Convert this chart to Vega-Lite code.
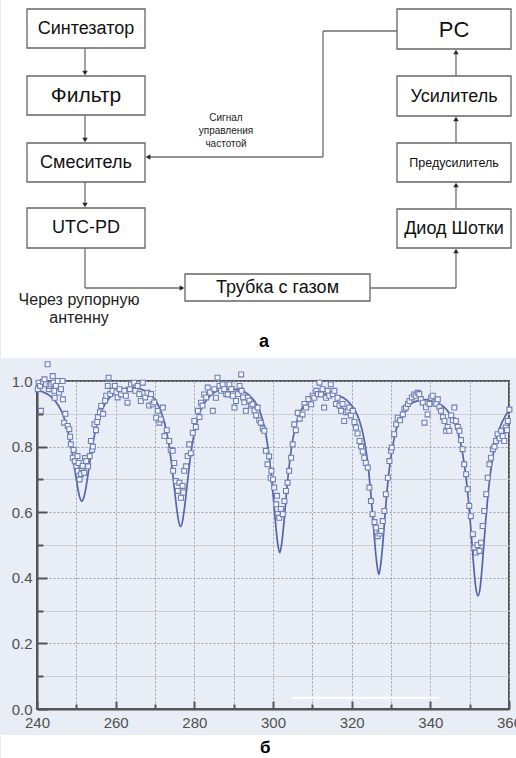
{
 "$schema": "https://vega.github.io/schema/vega-lite/v6.json",
 "background": "#e8edf6",
 "padding": 0,
 "spacing": 0,
 "config": {"font": "Liberation Sans"},
 "datasets": {
  "panel": [{"x": 0, "x2": 516, "y": 0, "y2": 358}],
  "segments": [
   {"x": 84, "y": 48, "x2": 84, "y2": 73},
   {"x": 84, "y": 115, "x2": 84, "y2": 140},
   {"x": 84, "y": 182, "x2": 84, "y2": 205},
   {"x": 84, "y": 248, "x2": 84, "y2": 288},
   {"x": 84, "y": 288, "x2": 181, "y2": 288},
   {"x": 369, "y": 288, "x2": 455, "y2": 288},
   {"x": 455, "y": 288, "x2": 455, "y2": 251},
   {"x": 455, "y": 209, "x2": 455, "y2": 185},
   {"x": 455, "y": 143, "x2": 455, "y2": 119},
   {"x": 455, "y": 76, "x2": 455, "y2": 52},
   {"x": 396, "y": 31, "x2": 322, "y2": 31},
   {"x": 322, "y": 31, "x2": 322, "y2": 157},
   {"x": 322, "y": 157, "x2": 147, "y2": 157}
  ],
  "boxes": [
   {"x": 26, "x2": 144, "y": 9, "y2": 48},
   {"x": 26, "x2": 144, "y": 76, "y2": 115},
   {"x": 26, "x2": 144, "y": 143, "y2": 182},
   {"x": 26, "x2": 144, "y": 208, "y2": 248},
   {"x": 184, "x2": 369, "y": 274, "y2": 301},
   {"x": 396, "x2": 510, "y": 9, "y2": 49},
   {"x": 396, "x2": 510, "y": 76, "y2": 116},
   {"x": 396, "x2": 510, "y": 143, "y2": 182},
   {"x": 396, "x2": 510, "y": 209, "y2": 248}
  ],
  "boxlabels": [
   {"x": 85, "y": 29, "label": "Синтезатор"},
   {"x": 85, "y": 96, "label": "Фильтр"},
   {"x": 85, "y": 163, "label": "Смеситель"},
   {"x": 85, "y": 228, "label": "UTC-PD"},
   {"x": 276.5, "y": 288, "label": "Трубка с газом"},
   {"x": 453, "y": 29.5, "label": "PC"},
   {"x": 453, "y": 96.5, "label": "Усилитель"},
   {"x": 453, "y": 163, "label": "Предусилитель"},
   {"x": 453, "y": 229, "label": "Диод Шотки"}
  ],
  "arrows": [
   {"x": 84, "y": 73, "dir": "down"},
   {"x": 84, "y": 140, "dir": "down"},
   {"x": 84, "y": 205, "dir": "down"},
   {"x": 181, "y": 288, "dir": "right"},
   {"x": 455, "y": 251, "dir": "up"},
   {"x": 455, "y": 185, "dir": "up"},
   {"x": 455, "y": 119, "dir": "up"},
   {"x": 455, "y": 52, "dir": "up"},
   {"x": 147, "y": 157, "dir": "left"}
  ],
  "signalnote": [
   {"x": 225, "y": 118, "t": "Сигнал"},
   {"x": 225, "y": 131, "t": "управления"},
   {"x": 225, "y": 144, "t": "частотой"}
  ],
  "antennanote": [
   {"x": 78, "y": 300, "t": "Через рупорную"},
   {"x": 78, "y": 318, "t": "антенну"}
  ],
  "toplabel": [{"x": 263, "y": 342, "t": "а"}],
  "strip": [{"x": 230.85, "x2": 362.03, "y": -0.0793, "y2": -0.16}],
  "artifact": [{"x": 304.8, "x2": 342.2, "y": 0.034}],
  "bottomlabel": [{"x": 298, "y": -0.12, "t": "б"}],
  "curve": [
   {"x": 240.0, "y": 0.973}, {"x": 241.4, "y": 0.967}, {"x": 243.4, "y": 0.954}, {"x": 245.4, "y": 0.926},
   {"x": 246.4, "y": 0.903}, {"x": 247.4, "y": 0.869}, {"x": 248.4, "y": 0.817}, {"x": 248.9, "y": 0.784},
   {"x": 249.4, "y": 0.747}, {"x": 249.9, "y": 0.708}, {"x": 250.4, "y": 0.671}, {"x": 250.9, "y": 0.644},
   {"x": 251.4, "y": 0.634}, {"x": 251.9, "y": 0.645}, {"x": 252.4, "y": 0.672}, {"x": 252.9, "y": 0.71},
   {"x": 253.4, "y": 0.75}, {"x": 253.9, "y": 0.788}, {"x": 254.4, "y": 0.822}, {"x": 255.4, "y": 0.874},
   {"x": 256.4, "y": 0.908}, {"x": 257.4, "y": 0.932}, {"x": 259.4, "y": 0.96}, {"x": 261.4, "y": 0.974},
   {"x": 263.9, "y": 0.98}, {"x": 266.5, "y": 0.975}, {"x": 268.5, "y": 0.962}, {"x": 270.5, "y": 0.934},
   {"x": 271.5, "y": 0.908}, {"x": 272.5, "y": 0.869}, {"x": 273.5, "y": 0.809}, {"x": 274.0, "y": 0.767},
   {"x": 274.5, "y": 0.718}, {"x": 275.0, "y": 0.665}, {"x": 275.5, "y": 0.613}, {"x": 276.0, "y": 0.573},
   {"x": 276.5, "y": 0.556}, {"x": 277.0, "y": 0.573}, {"x": 277.5, "y": 0.613}, {"x": 278.0, "y": 0.665},
   {"x": 278.5, "y": 0.718}, {"x": 279.0, "y": 0.767}, {"x": 279.5, "y": 0.809}, {"x": 280.5, "y": 0.868},
   {"x": 281.5, "y": 0.907}, {"x": 282.5, "y": 0.932}, {"x": 284.5, "y": 0.96}, {"x": 286.5, "y": 0.972},
   {"x": 289.0, "y": 0.975}, {"x": 291.7, "y": 0.972}, {"x": 293.7, "y": 0.959}, {"x": 295.7, "y": 0.931},
   {"x": 296.7, "y": 0.906}, {"x": 297.7, "y": 0.865}, {"x": 298.7, "y": 0.8}, {"x": 299.2, "y": 0.753},
   {"x": 299.7, "y": 0.696}, {"x": 300.2, "y": 0.629}, {"x": 300.7, "y": 0.56}, {"x": 301.2, "y": 0.504},
   {"x": 301.7, "y": 0.476}, {"x": 302.2, "y": 0.503}, {"x": 302.7, "y": 0.558}, {"x": 303.2, "y": 0.627},
   {"x": 303.7, "y": 0.694}, {"x": 304.2, "y": 0.75}, {"x": 304.7, "y": 0.797}, {"x": 305.7, "y": 0.86},
   {"x": 306.7, "y": 0.899}, {"x": 307.7, "y": 0.923}, {"x": 309.7, "y": 0.948}, {"x": 311.7, "y": 0.959},
   {"x": 313.5, "y": 0.959}, {"x": 316.9, "y": 0.954}, {"x": 318.9, "y": 0.94}, {"x": 320.9, "y": 0.91},
   {"x": 321.9, "y": 0.882}, {"x": 322.9, "y": 0.838}, {"x": 323.9, "y": 0.767}, {"x": 324.4, "y": 0.716},
   {"x": 324.9, "y": 0.653}, {"x": 325.4, "y": 0.579}, {"x": 325.9, "y": 0.503}, {"x": 326.4, "y": 0.443},
   {"x": 326.9, "y": 0.41}, {"x": 327.4, "y": 0.442}, {"x": 327.9, "y": 0.502}, {"x": 328.4, "y": 0.578},
   {"x": 328.9, "y": 0.652}, {"x": 329.4, "y": 0.714}, {"x": 329.9, "y": 0.761}, {"x": 330.9, "y": 0.831},
   {"x": 331.9, "y": 0.874}, {"x": 332.9, "y": 0.901}, {"x": 334.9, "y": 0.929}, {"x": 336.9, "y": 0.94},
   {"x": 339.0, "y": 0.943}, {"x": 342.1, "y": 0.932}, {"x": 344.1, "y": 0.913}, {"x": 346.1, "y": 0.875},
   {"x": 347.1, "y": 0.84}, {"x": 348.1, "y": 0.787}, {"x": 349.1, "y": 0.704}, {"x": 349.6, "y": 0.647},
   {"x": 350.1, "y": 0.579}, {"x": 350.6, "y": 0.502}, {"x": 351.1, "y": 0.425}, {"x": 351.6, "y": 0.366},
   {"x": 352.1, "y": 0.345}, {"x": 352.6, "y": 0.365}, {"x": 353.1, "y": 0.423}, {"x": 353.6, "y": 0.5},
   {"x": 354.1, "y": 0.577}, {"x": 354.6, "y": 0.645}, {"x": 355.1, "y": 0.702}, {"x": 356.1, "y": 0.784},
   {"x": 357.1, "y": 0.837}, {"x": 358.1, "y": 0.871}, {"x": 359.1, "y": 0.894}, {"x": 360.0, "y": 0.911}
  ],
  "points": [
   {"x": 240.2, "y": 0.975}, {"x": 240.4, "y": 0.995}, {"x": 240.8, "y": 0.985}, {"x": 241.0, "y": 0.909},
   {"x": 241.5, "y": 0.998}, {"x": 241.9, "y": 1.005}, {"x": 242.3, "y": 0.99}, {"x": 242.7, "y": 1.051},
   {"x": 243.0, "y": 0.975}, {"x": 243.2, "y": 0.985}, {"x": 243.6, "y": 0.99}, {"x": 244.0, "y": 1.015},
   {"x": 244.2, "y": 0.995}, {"x": 244.4, "y": 0.97}, {"x": 244.5, "y": 0.949}, {"x": 244.8, "y": 0.985},
   {"x": 245.3, "y": 1.0}, {"x": 245.6, "y": 0.965}, {"x": 246.1, "y": 0.975}, {"x": 246.5, "y": 1.0},
   {"x": 246.6, "y": 0.944}, {"x": 246.9, "y": 0.873}, {"x": 247.2, "y": 0.9}, {"x": 247.8, "y": 0.863},
   {"x": 248.2, "y": 0.853}, {"x": 248.4, "y": 0.83}, {"x": 248.6, "y": 0.807}, {"x": 249.1, "y": 0.766},
   {"x": 249.3, "y": 0.79}, {"x": 249.6, "y": 0.755}, {"x": 250.0, "y": 0.74}, {"x": 250.3, "y": 0.771},
   {"x": 250.4, "y": 0.726}, {"x": 250.6, "y": 0.75}, {"x": 250.8, "y": 0.7}, {"x": 251.2, "y": 0.716},
   {"x": 251.4, "y": 0.735}, {"x": 251.6, "y": 0.741}, {"x": 252.0, "y": 0.72}, {"x": 252.2, "y": 0.765},
   {"x": 252.5, "y": 0.756}, {"x": 253.0, "y": 0.74}, {"x": 253.4, "y": 0.771}, {"x": 253.7, "y": 0.817},
   {"x": 254.0, "y": 0.79}, {"x": 254.2, "y": 0.8}, {"x": 254.6, "y": 0.868}, {"x": 255.0, "y": 0.85},
   {"x": 255.3, "y": 0.875}, {"x": 255.5, "y": 0.89}, {"x": 256.0, "y": 0.905}, {"x": 256.3, "y": 0.924},
   {"x": 256.8, "y": 0.9}, {"x": 257.3, "y": 0.94}, {"x": 257.6, "y": 0.955}, {"x": 258.0, "y": 0.985},
   {"x": 258.2, "y": 1.01}, {"x": 258.6, "y": 0.96}, {"x": 259.2, "y": 0.97}, {"x": 259.8, "y": 0.985},
   {"x": 260.2, "y": 0.965}, {"x": 260.5, "y": 0.95}, {"x": 261.0, "y": 0.975}, {"x": 261.4, "y": 0.959},
   {"x": 262.2, "y": 0.97}, {"x": 262.6, "y": 0.955}, {"x": 263.0, "y": 0.934}, {"x": 263.6, "y": 0.975},
   {"x": 263.9, "y": 0.99}, {"x": 264.7, "y": 0.995}, {"x": 265.0, "y": 0.97}, {"x": 265.6, "y": 0.985},
   {"x": 266.0, "y": 0.96}, {"x": 266.4, "y": 0.939}, {"x": 266.9, "y": 0.995}, {"x": 267.5, "y": 0.95},
   {"x": 268.1, "y": 0.964}, {"x": 268.5, "y": 0.925}, {"x": 269.0, "y": 0.96}, {"x": 269.4, "y": 0.929},
   {"x": 269.8, "y": 0.935}, {"x": 270.3, "y": 0.888}, {"x": 270.7, "y": 0.909}, {"x": 271.1, "y": 0.873},
   {"x": 271.5, "y": 0.883}, {"x": 272.0, "y": 0.919}, {"x": 272.4, "y": 0.832}, {"x": 273.0, "y": 0.85},
   {"x": 273.6, "y": 0.817}, {"x": 274.0, "y": 0.79}, {"x": 274.5, "y": 0.787}, {"x": 274.6, "y": 0.726},
   {"x": 274.9, "y": 0.75}, {"x": 275.3, "y": 0.695}, {"x": 275.8, "y": 0.665}, {"x": 276.2, "y": 0.69},
   {"x": 276.6, "y": 0.644}, {"x": 277.0, "y": 0.68}, {"x": 277.2, "y": 0.66}, {"x": 277.4, "y": 0.726},
   {"x": 277.9, "y": 0.74}, {"x": 278.3, "y": 0.771}, {"x": 278.7, "y": 0.807}, {"x": 279.1, "y": 0.78},
   {"x": 279.6, "y": 0.842}, {"x": 280.0, "y": 0.878}, {"x": 280.4, "y": 0.86}, {"x": 280.9, "y": 0.909},
   {"x": 281.3, "y": 0.89}, {"x": 281.7, "y": 0.934}, {"x": 282.1, "y": 0.925}, {"x": 282.5, "y": 0.959},
   {"x": 283.0, "y": 0.95}, {"x": 283.4, "y": 0.98}, {"x": 284.0, "y": 0.965}, {"x": 284.7, "y": 0.909},
   {"x": 285.1, "y": 0.975}, {"x": 285.5, "y": 0.949}, {"x": 285.9, "y": 1.01}, {"x": 286.4, "y": 0.985},
   {"x": 286.8, "y": 0.97}, {"x": 287.2, "y": 0.99}, {"x": 287.6, "y": 0.975}, {"x": 288.1, "y": 0.96},
   {"x": 288.5, "y": 0.959}, {"x": 288.9, "y": 0.99}, {"x": 289.4, "y": 0.975}, {"x": 289.8, "y": 0.955},
   {"x": 290.2, "y": 0.919}, {"x": 290.6, "y": 0.939}, {"x": 291.1, "y": 0.96}, {"x": 291.5, "y": 0.985},
   {"x": 291.9, "y": 1.02}, {"x": 292.0, "y": 0.97}, {"x": 292.4, "y": 0.95}, {"x": 292.7, "y": 0.935},
   {"x": 293.1, "y": 0.909}, {"x": 293.6, "y": 0.949}, {"x": 294.0, "y": 0.94}, {"x": 294.4, "y": 0.925},
   {"x": 294.8, "y": 0.929}, {"x": 295.3, "y": 0.91}, {"x": 295.7, "y": 0.895}, {"x": 296.1, "y": 0.919},
   {"x": 296.5, "y": 0.88}, {"x": 296.9, "y": 0.873}, {"x": 297.4, "y": 0.855}, {"x": 297.8, "y": 0.848},
   {"x": 298.2, "y": 0.787}, {"x": 298.6, "y": 0.746}, {"x": 299.0, "y": 0.77}, {"x": 299.4, "y": 0.705},
   {"x": 299.6, "y": 0.726}, {"x": 300.0, "y": 0.7}, {"x": 300.3, "y": 0.675}, {"x": 300.8, "y": 0.624},
   {"x": 301.0, "y": 0.65}, {"x": 301.2, "y": 0.594}, {"x": 301.6, "y": 0.583}, {"x": 302.0, "y": 0.61},
   {"x": 302.5, "y": 0.594}, {"x": 302.9, "y": 0.634}, {"x": 303.3, "y": 0.665}, {"x": 303.7, "y": 0.69},
   {"x": 304.1, "y": 0.726}, {"x": 304.6, "y": 0.766}, {"x": 305.0, "y": 0.807}, {"x": 305.4, "y": 0.868},
   {"x": 305.8, "y": 0.85}, {"x": 306.3, "y": 0.903}, {"x": 306.8, "y": 0.885}, {"x": 307.5, "y": 0.898},
   {"x": 308.0, "y": 0.93}, {"x": 308.4, "y": 0.919}, {"x": 309.0, "y": 0.945}, {"x": 309.7, "y": 0.929},
   {"x": 310.1, "y": 0.955}, {"x": 310.5, "y": 0.949}, {"x": 311.0, "y": 0.97}, {"x": 311.4, "y": 0.96},
   {"x": 311.8, "y": 0.995}, {"x": 312.2, "y": 0.959}, {"x": 312.6, "y": 0.975}, {"x": 313.0, "y": 0.919},
   {"x": 313.5, "y": 0.949}, {"x": 313.9, "y": 0.97}, {"x": 314.3, "y": 0.955}, {"x": 314.7, "y": 0.99},
   {"x": 315.2, "y": 0.96}, {"x": 315.6, "y": 0.97}, {"x": 316.0, "y": 0.93}, {"x": 316.4, "y": 0.949},
   {"x": 316.9, "y": 0.925}, {"x": 317.3, "y": 0.909}, {"x": 317.7, "y": 0.93}, {"x": 318.1, "y": 0.878},
   {"x": 318.6, "y": 0.905}, {"x": 319.0, "y": 0.91}, {"x": 319.4, "y": 0.919}, {"x": 319.8, "y": 0.895},
   {"x": 320.3, "y": 0.909}, {"x": 320.7, "y": 0.875}, {"x": 321.1, "y": 0.858}, {"x": 321.5, "y": 0.84},
   {"x": 322.0, "y": 0.817}, {"x": 322.4, "y": 0.8}, {"x": 322.8, "y": 0.785}, {"x": 323.2, "y": 0.766},
   {"x": 323.6, "y": 0.75}, {"x": 324.1, "y": 0.736}, {"x": 324.5, "y": 0.675}, {"x": 324.9, "y": 0.634},
   {"x": 325.3, "y": 0.594}, {"x": 325.8, "y": 0.57}, {"x": 326.2, "y": 0.553}, {"x": 326.6, "y": 0.527},
   {"x": 327.1, "y": 0.535}, {"x": 327.5, "y": 0.543}, {"x": 327.9, "y": 0.573}, {"x": 328.3, "y": 0.604},
   {"x": 328.7, "y": 0.655}, {"x": 329.2, "y": 0.705}, {"x": 329.6, "y": 0.756}, {"x": 330.0, "y": 0.787},
   {"x": 330.2, "y": 0.797}, {"x": 330.8, "y": 0.838}, {"x": 331.3, "y": 0.868}, {"x": 331.7, "y": 0.888},
   {"x": 332.3, "y": 0.88}, {"x": 333.0, "y": 0.898}, {"x": 333.4, "y": 0.915}, {"x": 333.8, "y": 0.919},
   {"x": 334.3, "y": 0.93}, {"x": 334.7, "y": 0.939}, {"x": 335.3, "y": 0.95}, {"x": 335.9, "y": 0.959},
   {"x": 336.3, "y": 0.955}, {"x": 336.8, "y": 0.964}, {"x": 337.2, "y": 0.96}, {"x": 337.6, "y": 0.945},
   {"x": 338.1, "y": 0.934}, {"x": 338.5, "y": 0.873}, {"x": 338.9, "y": 0.92}, {"x": 339.3, "y": 0.898},
   {"x": 339.8, "y": 0.93}, {"x": 340.2, "y": 0.949}, {"x": 340.6, "y": 0.955}, {"x": 341.1, "y": 0.935},
   {"x": 341.5, "y": 0.93}, {"x": 341.9, "y": 0.944}, {"x": 342.3, "y": 0.92}, {"x": 342.7, "y": 0.909},
   {"x": 343.2, "y": 0.89}, {"x": 343.6, "y": 0.878}, {"x": 344.0, "y": 0.848}, {"x": 344.4, "y": 0.86},
   {"x": 344.8, "y": 0.848}, {"x": 345.3, "y": 0.895}, {"x": 345.7, "y": 0.88}, {"x": 346.1, "y": 0.919},
   {"x": 346.5, "y": 0.878}, {"x": 347.0, "y": 0.86}, {"x": 347.4, "y": 0.848}, {"x": 347.8, "y": 0.82},
   {"x": 348.2, "y": 0.792}, {"x": 348.6, "y": 0.746}, {"x": 349.1, "y": 0.716}, {"x": 349.5, "y": 0.67},
   {"x": 349.9, "y": 0.619}, {"x": 350.3, "y": 0.588}, {"x": 350.8, "y": 0.533}, {"x": 351.2, "y": 0.492},
   {"x": 351.6, "y": 0.477}, {"x": 352.0, "y": 0.5}, {"x": 352.5, "y": 0.482}, {"x": 352.9, "y": 0.507},
   {"x": 353.3, "y": 0.558}, {"x": 353.7, "y": 0.604}, {"x": 354.2, "y": 0.655}, {"x": 354.6, "y": 0.705},
   {"x": 355.0, "y": 0.746}, {"x": 355.4, "y": 0.766}, {"x": 355.9, "y": 0.792}, {"x": 356.3, "y": 0.8},
   {"x": 356.7, "y": 0.817}, {"x": 357.1, "y": 0.838}, {"x": 357.6, "y": 0.825}, {"x": 358.0, "y": 0.848},
   {"x": 358.4, "y": 0.832}, {"x": 358.8, "y": 0.817}, {"x": 359.2, "y": 0.858}, {"x": 359.5, "y": 0.85},
   {"x": 359.7, "y": 0.878}, {"x": 360.1, "y": 0.913}
  ]
 },
 "vconcat": [
  {
   "width": 472,
   "height": 358,
   "view": {"stroke": null},
   "encoding": {
    "x": {"field": "x", "type": "quantitative", "scale": {"domain": [36, 508], "nice": false, "zero": false}, "axis": null},
    "y": {"field": "y", "type": "quantitative", "scale": {"domain": [0, 358], "reverse": true, "nice": false, "zero": false}, "axis": null}
   },
   "layer": [
    {"data": {"name": "panel"}, "mark": {"type": "rect", "fill": "#ffffff"}, "encoding": {"x2": {"field": "x2"}, "y2": {"field": "y2"}}},
    {"data": {"name": "segments"}, "mark": {"type": "rule", "color": "#6e6e6e", "strokeWidth": 1.3}, "encoding": {"x2": {"field": "x2"}, "y2": {"field": "y2"}}},
    {"data": {"name": "boxes"}, "mark": {"type": "rect", "fill": "#ffffff", "stroke": "#666666", "strokeWidth": 1.3}, "encoding": {"x2": {"field": "x2"}, "y2": {"field": "y2"}}},
    {"data": {"name": "arrows"}, "mark": {"type": "point", "filled": true, "color": "#2a2a2a", "size": 30, "opacity": 1},
     "encoding": {"shape": {"field": "dir", "type": "nominal", "scale": {"domain": ["down", "up", "right", "left"], "range": ["triangle-down", "triangle-up", "triangle-right", "triangle-left"]}, "legend": null}}},
    {"data": {"name": "boxlabels"}, "transform": [{"filter": {"field": "label", "oneOf": ["Синтезатор", "Смеситель", "UTC-PD", "Усилитель", "Диод Шотки", "Трубка с газом"]}}],
     "mark": {"type": "text", "align": "center", "baseline": "middle", "color": "#111111", "font": "Liberation Sans", "fontSize": 18},
     "encoding": {"text": {"field": "label"}}},
    {"data": {"name": "boxlabels"}, "transform": [{"filter": {"field": "label", "equal": "Фильтр"}}],
     "mark": {"type": "text", "align": "center", "baseline": "middle", "color": "#111111", "font": "Liberation Sans", "fontSize": 21},
     "encoding": {"text": {"field": "label"}}},
    {"data": {"name": "boxlabels"}, "transform": [{"filter": {"field": "label", "equal": "PC"}}],
     "mark": {"type": "text", "align": "center", "baseline": "middle", "color": "#111111", "font": "Liberation Sans", "fontSize": 22},
     "encoding": {"text": {"field": "label"}}},
    {"data": {"name": "boxlabels"}, "transform": [{"filter": {"field": "label", "equal": "Предусилитель"}}],
     "mark": {"type": "text", "align": "center", "baseline": "middle", "color": "#111111", "font": "Liberation Sans", "fontSize": 12.5},
     "encoding": {"text": {"field": "label"}}},
    {"data": {"name": "signalnote"}, "mark": {"type": "text", "align": "center", "baseline": "middle", "fontSize": 10, "color": "#222222", "font": "Liberation Sans"}, "encoding": {"text": {"field": "t"}}},
    {"data": {"name": "antennanote"}, "mark": {"type": "text", "align": "center", "baseline": "middle", "fontSize": 16, "color": "#222222", "font": "Liberation Sans"}, "encoding": {"text": {"field": "t"}}},
    {"data": {"name": "toplabel"}, "mark": {"type": "text", "align": "center", "baseline": "middle", "fontSize": 18, "fontWeight": "bold", "color": "#000000", "font": "Liberation Sans"}, "encoding": {"text": {"field": "t"}}}
   ]
  },
  {
   "width": 472,
   "height": 328,
   "view": {"stroke": "#555555", "strokeWidth": 2},
   "encoding": {
    "x": {"field": "x", "type": "quantitative", "scale": {"domain": [240, 360], "nice": false, "zero": false},
     "axis": {"title": null, "values": [240, 250, 260, 270, 280, 290, 300, 310, 320, 330, 340, 350, 360],
      "labelExpr": "datum.value % 20 == 0 ? datum.label : ''",
      "labelFont": "Liberation Sans", "labelFontSize": 15, "labelColor": "#505050", "labelPadding": 14,
      "labelFlush": false, "labelOverlap": false,
      "tickColor": "#555555", "tickWidth": 2,
      "tickSize": {"condition": {"test": "datum.value % 20 == 0", "value": -8}, "value": -5},
      "domainColor": "#555555", "domainWidth": 2,
      "grid": true, "gridColor": "#9aa0ab", "gridDash": [2, 2], "gridWidth": 1}},
    "y": {"field": "y", "type": "quantitative", "scale": {"domain": [0, 1], "nice": false, "zero": false},
     "axis": {"title": null, "values": [0, 0.1, 0.2, 0.3, 0.4, 0.5, 0.6, 0.7, 0.8, 0.9, 1],
      "labelExpr": "round(datum.value * 10) % 2 == 0 ? format(datum.value, '.1f') : ''",
      "labelFont": "Liberation Sans", "labelFontSize": 15, "labelColor": "#505050", "labelPadding": 15,
      "labelFlush": false, "labelOverlap": false,
      "tickColor": "#555555", "tickWidth": 2,
      "tickSize": {"condition": {"test": "round(datum.value * 10) % 2 == 0", "value": -10}, "value": -6},
      "domainColor": "#555555", "domainWidth": 2,
      "grid": true,
      "gridColor": {"condition": {"test": "round(datum.value * 10) % 2 == 0", "value": "#9aa0ab"}, "value": "#c9ced8"},
      "gridDash": {"condition": {"test": "round(datum.value * 10) % 2 == 0", "value": [2, 2]}, "value": []},
      "gridWidth": 1}}
   },
   "layer": [
    {"data": {"name": "strip"}, "mark": {"type": "rect", "fill": "#ffffff"}, "encoding": {"x2": {"field": "x2"}, "y2": {"field": "y2"}}},
    {"data": {"name": "artifact"}, "mark": {"type": "rule", "color": "#ffffff", "strokeWidth": 2}, "encoding": {"x2": {"field": "x2"}}},
    {"data": {"name": "curve"}, "mark": {"type": "line", "color": "#5565a8", "strokeWidth": 1.7, "interpolate": "monotone"}, "encoding": {}},
    {"data": {"name": "points"}, "mark": {"type": "point", "shape": "square", "size": 24, "filled": false, "fill": "#f3f5fb", "fillOpacity": 1, "stroke": "#6f7fb8", "strokeWidth": 1.1, "opacity": 1}, "encoding": {}},
    {"data": {"name": "bottomlabel"}, "mark": {"type": "text", "align": "center", "baseline": "middle", "fontSize": 17, "fontWeight": "bold", "color": "#000000", "font": "Liberation Sans"}, "encoding": {"text": {"field": "t"}}}
   ]
  }
 ]
}
